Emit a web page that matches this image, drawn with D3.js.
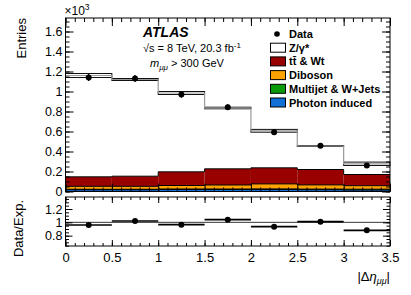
<!DOCTYPE html>
<html>
<head>
<meta charset="utf-8">
<script src="https://cdn.jsdelivr.net/npm/d3@7"></script>
<style>
  body { margin: 0; background: #fff; }
  svg { display: block; font-family: "Liberation Sans", Arial, Helvetica, sans-serif; }
</style>
</head>
<body>
<script>
// bins of |delta eta_mumu|
var binEdges = [0, 0.5, 1, 1.5, 2, 2.5, 3, 3.5];

// stacked expectation, in units of 10^3 entries
var photonInduced = [0.018, 0.018, 0.02, 0.02, 0.02, 0.018, 0.015];
var multijet      = [0.004, 0.004, 0.005, 0.005, 0.006, 0.006, 0.008];
var diboson       = [0.03, 0.03, 0.035, 0.04, 0.05, 0.042, 0.035];
var ttbarWt       = [0.095, 0.101, 0.137, 0.162, 0.161, 0.154, 0.112];
var zGamma        = [1.013, 0.967, 0.788, 0.608, 0.37, 0.235, 0.107];
var expUnc        = [0.02, 0.01, 0.015, 0.008, 0.014, 0.004, 0.017];

// data
var dataVals = [1.14, 1.13, 0.97, 0.843, 0.593, 0.457, 0.26];
var dataErr  = [0.034, 0.034, 0.031, 0.029, 0.024, 0.021, 0.016];

// ratio panel
var ratioVals = [0.96, 1.02, 0.965, 1.04, 0.935, 1.01, 0.88];
var ratioErr  = [0.01, 0.01, 0.01, 0.012, 0.015, 0.02, 0.03];

var xTicks = [0, 0.5, 1, 1.5, 2, 2.5, 3, 3.5];
var yTicks = [0, 0.2, 0.4, 0.6, 0.8, 1, 1.2, 1.4, 1.6];
var rTicks = [0.8, 1, 1.2];

var layers = [
  {key: "photon", label: "Photon induced", color: "#1170d8", vals: photonInduced},
  {key: "multijet", label: "Multijet & W+Jets", color: "#0a9a0a", vals: multijet},
  {key: "diboson", label: "Diboson", color: "#ffa200", vals: diboson},
  {key: "ttbar", label: "t\u0074\u0304 & Wt", color: "#990000", vals: ttbarWt},
  {key: "zgamma", label: "Z/\u03b3*", color: "#ffffff", vals: zGamma}
];

var W = 411, H = 295;
var X0 = 65.5, X1 = 390, mainTop = 18, mainBot = 191.5, ratTop = 197, ratBot = 246;

var svg = d3.select("body").append("svg").attr("width", W).attr("height", H);

var x = d3.scaleLinear().domain([0, 3.5]).range([X0, X1]);
var y = d3.scaleLinear().domain([0, 1.735]).range([mainBot, mainTop]);
var yr = d3.scaleLinear().domain([0.645, 1.38]).range([ratBot, ratTop]);

var bins = d3.range(binEdges.length - 1).map(function(i) {
  var o = {i: i, lo: binEdges[i], hi: binEdges[i + 1]};
  layers.forEach(function(l) { o[l.key] = l.vals[i]; });
  return o;
});

var series = d3.stack().keys(layers.map(function(l) { return l.key; }))(bins);

function stepPath(vals, yy) {
  var p = "";
  vals.forEach(function(v, i) {
    p += (i == 0 ? "M" : "L") + x(binEdges[i]) + "," + yy(v) + "L" + x(binEdges[i + 1]) + "," + yy(v);
  });
  return p;
}

var main = svg.append("g");

// filled stack
series.forEach(function(s, k) {
  main.selectAll(".l" + k).data(s).enter().append("rect")
    .attr("x", function(d, i) { return x(binEdges[i]); })
    .attr("width", function(d, i) { return x(binEdges[i + 1]) - x(binEdges[i]); })
    .attr("y", function(d) { return y(d[1]); })
    .attr("height", function(d) { return y(d[0]) - y(d[1]); })
    .attr("fill", layers[k].color);
});
// outlines of each layer
series.forEach(function(s, k) {
  if (k == series.length - 1) return;
  main.append("path")
    .attr("d", stepPath(s.map(function(d) { return d[1]; }), y))
    .attr("fill", "none").attr("stroke", "#000").attr("stroke-width", 1);
});

// expectation uncertainty band
var totals = series[series.length - 1].map(function(d) { return d[1]; });
main.selectAll(".band").data(totals).enter().append("rect")
  .attr("x", function(d, i) { return x(binEdges[i]); })
  .attr("width", function(d, i) { return x(binEdges[i + 1]) - x(binEdges[i]); })
  .attr("y", function(d, i) { return y(d + expUnc[i]); })
  .attr("height", function(d, i) { return y(d - expUnc[i]) - y(d + expUnc[i]); })
  .attr("fill", "#fff").attr("stroke", "#111").attr("stroke-width", 1);
main.append("path")
  .attr("d", stepPath(totals, y))
  .attr("fill", "none").attr("stroke", "#999").attr("stroke-width", 1.2);

// data points
var mid = function(i) { return x((binEdges[i] + binEdges[i + 1]) / 2); };
main.selectAll(".derr").data(dataVals).enter().append("line")
  .attr("x1", function(d, i) { return mid(i); }).attr("x2", function(d, i) { return mid(i); })
  .attr("y1", function(d, i) { return y(d - dataErr[i]); })
  .attr("y2", function(d, i) { return y(d + dataErr[i]); })
  .attr("stroke", "#000").attr("stroke-width", 1.3);
main.selectAll(".dot").data(dataVals).enter().append("circle")
  .attr("cx", function(d, i) { return mid(i); })
  .attr("cy", function(d) { return y(d); })
  .attr("r", 3).attr("fill", "#000");

// ratio panel
var rat = svg.append("g");
rat.append("line").attr("x1", X0).attr("x2", X1).attr("y1", yr(1)).attr("y2", yr(1))
  .attr("stroke", "#000").attr("stroke-width", 0.8);
rat.selectAll(".rx").data(ratioVals).enter().append("line")
  .attr("x1", function(d, i) { return x(binEdges[i]); })
  .attr("x2", function(d, i) { return x(binEdges[i + 1]); })
  .attr("y1", function(d) { return yr(d); }).attr("y2", function(d) { return yr(d); })
  .attr("stroke", "#000").attr("stroke-width", 1.6);
rat.selectAll(".ry").data(ratioVals).enter().append("line")
  .attr("x1", function(d, i) { return mid(i); }).attr("x2", function(d, i) { return mid(i); })
  .attr("y1", function(d, i) { return yr(d - ratioErr[i]); })
  .attr("y2", function(d, i) { return yr(d + ratioErr[i]); })
  .attr("stroke", "#000").attr("stroke-width", 1.6);
rat.selectAll(".rdot").data(ratioVals).enter().append("circle")
  .attr("cx", function(d, i) { return mid(i); })
  .attr("cy", function(d) { return yr(d); })
  .attr("r", 3).attr("fill", "#000");

// axes, ROOT style: ticks inside on all sides
function addAxis(axis, tx, ty, labels) {
  var g = svg.append("g").attr("transform", "translate(" + tx + "," + ty + ")").call(axis);
  g.select(".domain").remove();
  g.selectAll("line").attr("stroke", "#000");
  g.selectAll("text").attr("font-size", "12.5px").attr("fill", "#000");
  if (!labels) g.selectAll("text").remove();
  return g;
}
function minorVals(lo, hi, step) {
  var out = [];
  for (var v = lo; v <= hi + 1e-9; v += step) out.push(+v.toFixed(4));
  return out;
}
var fmt = function(d) { return d3.format("~g")(d); };
var xMinor = minorVals(0, 3.5, 0.1);
var yMinor = minorVals(0, 1.73, 0.05);
var rMinor = minorVals(0.65, 1.38, 0.05);

// main panel
addAxis(d3.axisLeft(y).tickValues(yTicks).tickFormat(fmt).tickSize(-8).tickPadding(3), X0, 0, true);
addAxis(d3.axisLeft(y).tickValues(yMinor).tickSize(-4), X0, 0, false);
addAxis(d3.axisRight(y).tickValues(yTicks).tickSize(-8), X1, 0, false);
addAxis(d3.axisRight(y).tickValues(yMinor).tickSize(-4), X1, 0, false);
addAxis(d3.axisTop(x).tickValues(xTicks).tickSize(-8), 0, mainTop, false);
addAxis(d3.axisTop(x).tickValues(xMinor).tickSize(-4), 0, mainTop, false);
addAxis(d3.axisBottom(x).tickValues(xTicks).tickSize(-8), 0, mainBot, false);
addAxis(d3.axisBottom(x).tickValues(xMinor).tickSize(-4), 0, mainBot, false);

// ratio panel
addAxis(d3.axisLeft(yr).tickValues(rTicks).tickFormat(fmt).tickSize(-7).tickPadding(3), X0, 0, true);
addAxis(d3.axisLeft(yr).tickValues(rMinor).tickSize(-3.5), X0, 0, false);
addAxis(d3.axisRight(yr).tickValues(rTicks).tickSize(-7), X1, 0, false);
addAxis(d3.axisRight(yr).tickValues(rMinor).tickSize(-3.5), X1, 0, false);
addAxis(d3.axisTop(x).tickValues(xTicks).tickSize(-6), 0, ratTop, false);
addAxis(d3.axisTop(x).tickValues(xMinor).tickSize(-3), 0, ratTop, false);
addAxis(d3.axisBottom(x).tickValues(xTicks).tickFormat(fmt).tickSize(-6).tickPadding(7), 0, ratBot, true)
  .selectAll("text").attr("font-size", "13px");
addAxis(d3.axisBottom(x).tickValues(xMinor).tickSize(-3), 0, ratBot, false);

// frames
svg.append("rect").attr("x", X0).attr("y", mainTop).attr("width", X1 - X0).attr("height", mainBot - mainTop)
  .attr("fill", "none").attr("stroke", "#000").attr("stroke-width", 1);
svg.append("rect").attr("x", X0).attr("y", ratTop).attr("width", X1 - X0).attr("height", ratBot - ratTop)
  .attr("fill", "none").attr("stroke", "#000").attr("stroke-width", 1);

// axis titles
svg.append("text").attr("transform", "translate(26," + mainTop + ") rotate(-90)")
  .attr("text-anchor", "end").attr("font-size", "13px").text("Entries");
svg.append("text").attr("transform", "translate(23," + (ratTop + 3) + ") rotate(-90)")
  .attr("text-anchor", "end").attr("font-size", "13px").text("Data/Exp.");

var xt = svg.append("text").attr("x", X1).attr("y", 281).attr("text-anchor", "end").attr("font-size", "13px");
xt.append("tspan").text("|\u0394");
xt.append("tspan").attr("font-style", "italic").text("\u03b7");
xt.append("tspan").attr("font-style", "italic").attr("font-size", "9px").attr("dy", 3).text("\u03bc\u03bc");
xt.append("tspan").attr("dy", -3).text("|");

var e3 = svg.append("text").attr("x", X0 - 1).attr("y", 15).attr("font-size", "12px");
e3.append("tspan").text("\u00d710");
e3.append("tspan").attr("font-size", "8.5px").attr("dy", -5).text("3");

// ATLAS label
svg.append("text").attr("x", 143).attr("y", 37).attr("font-size", "14px")
  .attr("font-weight", "bold").attr("font-style", "italic").text("ATLAS");
var en = svg.append("text").attr("x", 143).attr("y", 52).attr("font-size", "11px");
en.append("tspan").text("\u221as = 8 TeV, 20.3 fb");
en.append("tspan").attr("font-size", "8px").attr("dy", -4).text("-1");
var mc = svg.append("text").attr("x", 150).attr("y", 67).attr("font-size", "11px");
mc.append("tspan").attr("font-style", "italic").text("m");
mc.append("tspan").attr("font-style", "italic").attr("font-size", "8px").attr("dy", 2.5).text("\u03bc\u03bc");
mc.append("tspan").attr("dy", -2.5).text(" > 300 GeV");

// legend
var legY0 = 34, legStep = 13.7;
var leg = svg.append("g").attr("font-size", "11px").attr("font-weight", "bold");
leg.append("circle").attr("cx", 277).attr("cy", legY0).attr("r", 2.8).attr("fill", "#000");
leg.append("text").attr("x", 289).attr("y", legY0 + 4).text("Data");
var legOrder = layers.slice().reverse();
legOrder.forEach(function(l, i) {
  var cy = legY0 + legStep * (i + 1);
  leg.append("rect").attr("x", 270.5).attr("y", cy - 4.5).attr("width", 15).attr("height", 9)
    .attr("fill", l.color).attr("stroke", "#000").attr("stroke-width", 1);
  leg.append("text").attr("x", 289).attr("y", cy + 4).text(l.label);
});
</script>
</body>
</html>
